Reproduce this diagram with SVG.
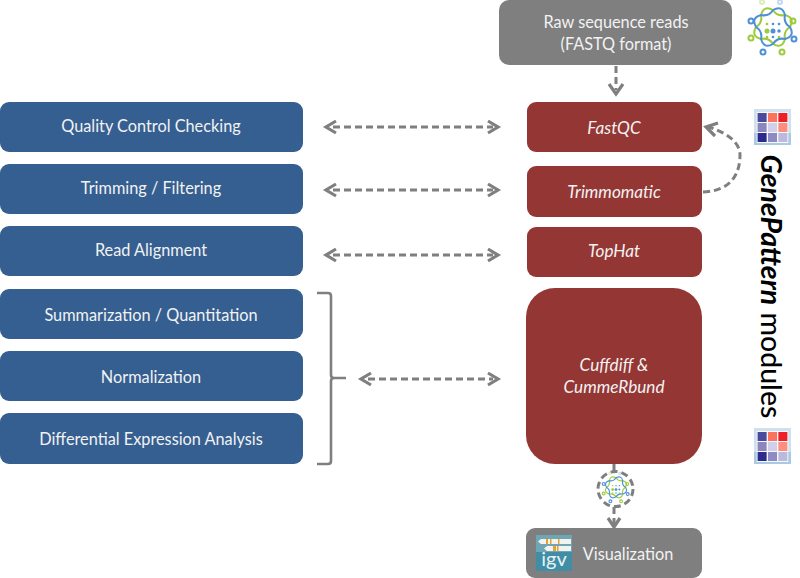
<svg xmlns="http://www.w3.org/2000/svg" xmlns:xlink="http://www.w3.org/1999/xlink" width="800" height="578" viewBox="0 0 800 578">
<style>
text{font-family:"Lato","Open Sans","Liberation Sans",sans-serif;font-size:16.3px;fill:#f2f2f2;text-anchor:middle}
.blue{fill:#355f91}
.red{fill:#943634}
.gray{fill:#7f7f7f}
.it{font-style:italic;font-size:17.2px}
.c{fill:none;stroke:#7f7f7f;stroke-width:3;stroke-dasharray:7 4}
.h{fill:none;stroke:#7f7f7f;stroke-width:3.2}
.br{fill:none;stroke:#7f7f7f;stroke-width:2.6}
.g{fill:none;stroke:#9ccb3b;stroke-width:2}
.b{fill:none;stroke:#4d90d6;stroke-width:2}
.gd{fill:#9ccb3b}.bd{fill:#4d90d6}
</style>
<defs>
<symbol id="heat" viewBox="0 0 41 36" overflow="visible" preserveAspectRatio="none">
<rect width="41" height="36" fill="#cfe0ee"/>
<rect x="0" y="24" width="41" height="12" fill="#a9cbe2"/>
<rect x="3" y="3" width="35" height="31" fill="#f7f8fb"/>
<rect x="4" y="4" width="10" height="9" fill="#4a4a9c"/><rect x="15.500" y="4" width="10" height="9" fill="#f9735f"/><rect x="27" y="4" width="10" height="9" fill="#ee2027"/>
<rect x="4" y="14" width="10" height="9" fill="#8b86bd"/><rect x="15.500" y="14" width="10" height="9" fill="#d2cfe8"/><rect x="27" y="14" width="10" height="9" fill="#fb8e7d"/>
<rect x="4" y="24" width="10" height="9" fill="#2d2a8f"/><rect x="15.500" y="24" width="10" height="9" fill="#8e8bc4"/><rect x="27" y="24" width="10" height="9" fill="#bcb9dc"/>
</symbol>
<symbol id="bio" viewBox="0 0 50 50" overflow="visible">
<g transform="translate(0 -3)">
<path class="g" d="M42 25Q35.2 29.2 37 37Q34.200 47.200 25 42Q20.800 35.200 13 37Q2.800 34.200 8 25Q14.800 20.800 13 13Q15.800 2.800 25 8Q29.200 14.800 37 13Q47.200 15.800 42 25Z"/>
<path class="b" d="M42 25Q47.200 34.200 37 37Q29.200 35.200 25 42Q15.800 47.200 13 37Q14.800 29.200 8 25Q2.800 15.800 13 13Q20.800 14.800 25 8Q34.200 2.800 37 13Q35.200 20.800 42 25Z"/>
</g>
<g class="b"><circle cx="3" cy="16" r="2.500"/><circle cx="46" cy="34" r="2.500"/><circle cx="15" cy="47" r="2.500"/><circle cx="32" cy="-3" r="2" opacity=".35"/></g>
<g class="g"><circle cx="45" cy="16" r="2.500"/><circle cx="3" cy="33" r="2.500"/><circle cx="34" cy="47" r="2.500"/><circle cx="14" cy="-3" r="2" opacity=".35"/></g>
<circle class="gd" cx="19" cy="26" r="2.500"/><circle class="bd" cx="25" cy="26" r="2.500"/><circle class="bd" cx="31" cy="26" r="1.800"/>
<g class="bd"><circle cx="25" cy="19" r="1.300"/><circle cx="31" cy="19" r="1.300"/><circle cx="25" cy="32" r="1.300"/></g>
<g class="gd"><circle cx="19" cy="19" r="1.300"/><circle cx="19" cy="32" r="1.300"/><circle cx="31" cy="32" r="1.300"/></g>
</symbol>
</defs>

<g id="connectors">
<path class="c" d="M616 66V90"/><path class="h" d="M609 84L616 94L623 84"/>
<path class="c" d="M333 127H493"/><path class="h" d="M336 121L326 127L336 133M488 121L498 127L488 133"/>
<path class="c" d="M333 190H493"/><path class="h" d="M336 184L326 190L336 196M488 184L498 190L488 196"/>
<path class="c" d="M333 255H493"/><path class="h" d="M336 249L326 255L336 261M488 249L498 255L488 261"/>
<path class="c" d="M368 379H493"/><path class="h" d="M371 373L361 379L371 385M488 373L498 379L488 385"/>
<path class="c" d="M703 192C731 191 740 174 740 155C740 144 730 134 709 127"/><path class="h" d="M718 123L706 127L715 136"/>
<path class="br" d="M317 293H328Q331 293 331 296V375Q331 378 334 378H346M334 378Q331 378 331 381V461Q331 464 328 464H317"/>
<path class="c" d="M614 464V476"/>
<circle cx="615.500" cy="489" r="17.500" fill="#fff" stroke="#7f7f7f" stroke-width="3" stroke-dasharray="7 4"/>
<path class="c" d="M614 507V524"/><path class="h" d="M608 518L614 527L620 518"/>
</g>

<g id="n-qc"><rect class="blue" x="0" y="102" width="303" height="50" rx="9"/><text x="151" y="132">Quality Control Checking</text></g>
<g id="n-trim"><rect class="blue" x="0" y="164" width="303" height="50" rx="9"/><text x="151" y="194">Trimming / Filtering</text></g>
<g id="n-align"><rect class="blue" x="0" y="226" width="303" height="50" rx="9"/><text x="151" y="256">Read Alignment</text></g>
<g id="n-summ"><rect class="blue" x="0" y="289" width="303" height="50" rx="9"/><text x="151" y="320.500">Summarization / Quantitation</text></g>
<g id="n-norm"><rect class="blue" x="0" y="351" width="303" height="50" rx="9"/><text x="151" y="382.500">Normalization</text></g>
<g id="n-de"><rect class="blue" x="0" y="413" width="303" height="51" rx="9"/><text x="151" y="444.500">Differential Expression Analysis</text></g>

<g id="n-raw"><rect class="gray" x="499" y="0" width="233" height="65" rx="10"/><text x="616" y="27.500">Raw sequence reads</text><text x="616" y="49.500">(FASTQ format)</text></g>
<g id="n-fastqc"><rect class="red" x="527" y="102" width="175" height="50" rx="9"/><text class="it" x="614" y="134">FastQC</text></g>
<g id="n-trimmomatic"><rect class="red" x="527" y="166" width="175" height="51" rx="9"/><text class="it" x="614" y="198">Trimmomatic</text></g>
<g id="n-tophat"><rect class="red" x="527" y="227" width="175" height="50" rx="9"/><text class="it" x="614" y="257">TopHat</text></g>
<g id="n-cuff"><rect class="red" x="526" y="288" width="176" height="176" rx="29"/><text class="it" x="614" y="371">Cuffdiff &amp;</text><text class="it" x="614" y="393">CummeRbund</text></g>
<g id="n-viz"><rect class="gray" x="526" y="528" width="176" height="50" rx="9"/><text x="628" y="559.500">Visualization</text>
<g id="igv-icon"><rect x="536" y="535" width="36" height="36" fill="#3f8ea5"/><rect x="536" y="535" width="36" height="17" fill="#6ea6b6"/><path d="M541 539H571V544H541L538 541.500ZM547 546H571V551H547L544 548.500Z" fill="#f2f2ee"/><path d="M546 539h2v5h-2zM550 539h1.500v5H550zM558 539h1.500v5H558zM553 546h3v5h-3zM557 546h1.500v5H557z" fill="#e8a030"/><text x="554" y="566" style="font-size:20px;fill:#e6f2f5">igv</text></g></g>

<g id="n-seq-icon"><use xlink:href="#bio" href="#bio" x="748" y="5" width="50" height="50"/></g>
<g id="n-seq-icon-small"><use xlink:href="#bio" href="#bio" x="602" y="475" width="28" height="28"/></g>
<g id="n-heat-top"><use xlink:href="#heat" href="#heat" x="754" y="109" width="37" height="36"/></g>
<g id="n-heat-bottom"><use xlink:href="#heat" href="#heat" x="754" y="428" width="37" height="36"/></g>
<g id="n-label"><text transform="translate(761 286.500) rotate(90)" style="font-size:28.500px;fill:#000;font-weight:500"><tspan font-style="italic" font-weight="700">GenePattern</tspan> modules</text></g>
</svg>
